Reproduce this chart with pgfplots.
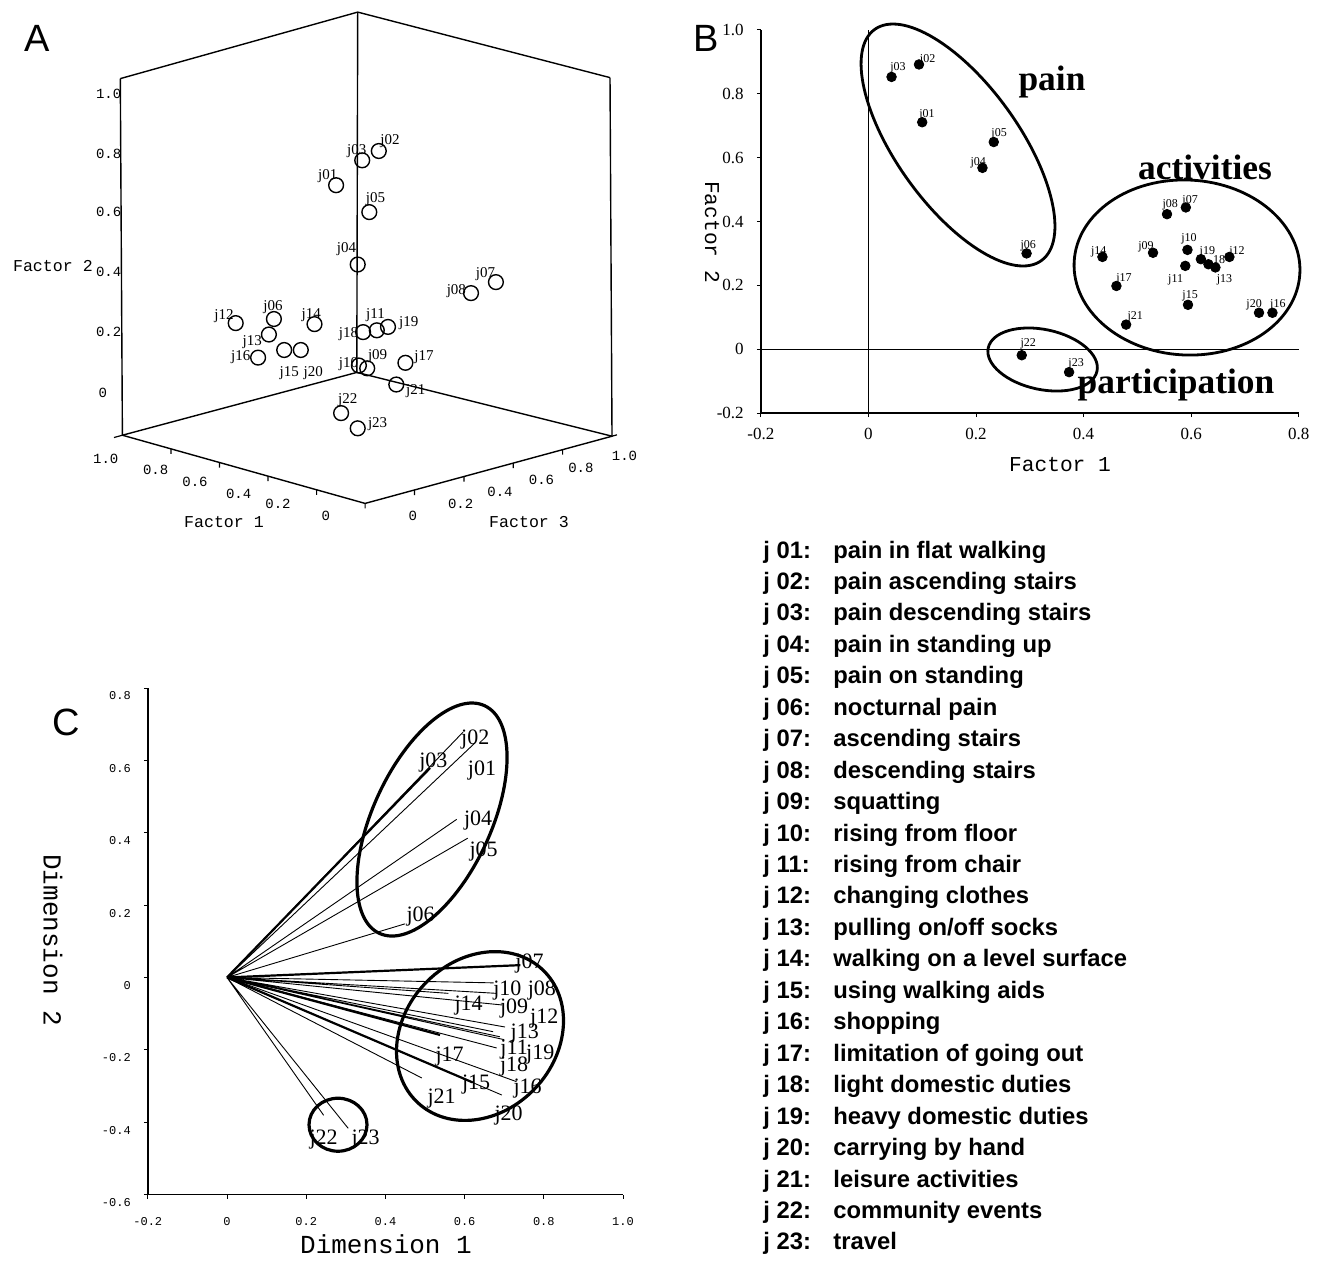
\documentclass[border=0pt]{standalone}
\usepackage{fontspec}
\setmainfont{Liberation Serif}
\newfontfamily\lmono{Liberation Mono}
\newfontfamily\lsans{Liberation Sans}
\usepackage{pgfplots}
\pgfplotsset{compat=1.18}

\begin{document}
\begin{tikzpicture}
\path[use as bounding box] (0,0) rectangle (662.5pt,630pt);

% ---------------- base axis in pixel coordinates (panel A, legend, annotations)
\begin{axis}[at={(0,0)}, anchor=south west, width=662.5pt, height=630pt, scale only axis,
  xmin=0, xmax=1325, ymin=0, ymax=1260, y dir=reverse, hide axis, clip=false]
% box of panel A
\addplot[black, line width=0.7pt] coordinates {(120.3,78.6) (357.7,12.1) (610,77.6)};
\addplot[black, line width=0.7pt] coordinates {(120.3,78.6) (122.4,435.2) (365.1,503.4) (612,436.2) (610,77.6)};
\addplot[black, line width=0.7pt] coordinates {(357.7,12.1) (356.8,372.4)};
\addplot[black, line width=0.7pt] coordinates {(122.4,435.2) (356.8,372.4) (612,436.2)};
\addplot[black, line width=0.6pt, unbounded coords=jump] coordinates {
 (114,437.5) (122.4,435.2) (nan,nan)
 (170.9,448.8) (170.9,453.8) (nan,nan) (219.5,462.5) (219.5,467.5) (nan,nan)
 (268.0,476.1) (268.0,481.1) (nan,nan) (316.6,489.8) (316.6,494.8) (nan,nan)
 (365.1,503.4) (365.1,508.4) (nan,nan)
 (414.5,490.0) (414.5,495.0) (nan,nan) (463.9,476.5) (463.9,481.5) (nan,nan)
 (513.2,463.1) (513.2,468.1) (nan,nan) (562.6,449.6) (562.6,454.6) (nan,nan)
 (612,436.2) (617,434.8)};
% points of panel A
\addplot[only marks, mark=o, mark size=3.7pt, mark options={line width=0.7pt}] table {
x y
378.8 151
362.2 160.3
336.1 185.2
369.3 212.1
357.7 264.5
495.9 282.1
471.0 293.1
235.7 323.1
273.9 319.0
314.5 324.1
376.8 330.3
388.0 326.9
363.1 332.1
268.9 334.5
284.2 350.0
300.8 350.0
258.1 357.6
358.9 365.5
367.2 368.3
405.4 362.8
396.3 384.5
341.1 413.1
357.7 428.3
};
\begin{scope}[every node/.style={font=\fontsize{7.5}{8}\selectfont, inner sep=0pt}]
\node at (axis cs:390,141.4) {j02};
\node at (axis cs:356.8,151) {j03};
\node at (axis cs:327.8,175.9) {j01};
\node at (axis cs:375.5,199.3) {j05};
\node at (axis cs:346.5,249) {j04};
\node at (axis cs:485.5,274.1) {j07};
\node at (axis cs:456.4,290.7) {j08};
\node at (axis cs:224,316.6) {j12};
\node at (axis cs:273,306.9) {j06};
\node at (axis cs:311.2,315.5) {j14};
\node at (axis cs:375.5,315.5) {j11};
\node at (axis cs:408.7,323.4) {j19};
\node at (axis cs:348.5,333.8) {j18};
\node at (axis cs:252.3,342) {j13};
\node at (axis cs:240.7,357.6) {j16};
\node at (axis cs:289.2,373.1) {j15};
\node at (axis cs:313.3,373.1) {j20};
\node at (axis cs:348.5,363.8) {j10};
\node at (axis cs:377.6,355.9) {j09};
\node at (axis cs:424,356.9) {j17};
\node at (axis cs:415.8,391.4) {j21};
\node at (axis cs:347.7,400) {j22};
\node at (axis cs:377.6,424.1) {j23};
\end{scope}
% tick labels of panel A
\begin{scope}[every node/.style={font=\lmono\fontsize{7}{7}\selectfont, inner sep=0pt}]
\node at (axis cs:108.7,93.8) {1.0};
\node at (axis cs:108.7,153.4) {0.8};
\node at (axis cs:108.7,212) {0.6};
\node at (axis cs:108.7,272) {0.4};
\node at (axis cs:108.7,331.7) {0.2};
\node at (axis cs:102.9,393) {0};
\node at (axis cs:105.8,458.6) {1.0};
\node at (axis cs:155.6,469.7) {0.8};
\node at (axis cs:195,482) {0.6};
\node at (axis cs:238.6,493.8) {0.4};
\node at (axis cs:278,504) {0.2};
\node at (axis cs:325.7,516.2) {0};
\node at (axis cs:412.9,515.5) {0};
\node at (axis cs:460.6,503.4) {0.2};
\node at (axis cs:500,491.4) {0.4};
\node at (axis cs:541.5,480) {0.6};
\node at (axis cs:580.9,468) {0.8};
\node at (axis cs:624.5,455.9) {1.0};
\end{scope}
\begin{scope}[every node/.style={font=\lmono\fontsize{8.3}{9}\selectfont, inner sep=0pt}]
\node at (axis cs:52.9,266) {Factor 2};
\node at (axis cs:224,522.4) {Factor 1};
\node at (axis cs:529,521.7) {Factor 3};
\end{scope}
% panel letters
\node[font=\lsans\fontsize{19}{20}\selectfont] at (axis cs:37,38) {A};
\node[font=\lsans\fontsize{19}{20}\selectfont] at (axis cs:706,38) {B};
\node[font=\lsans\fontsize{19}{20}\selectfont] at (axis cs:66,722) {C};
% axis titles of B and C
\node[font=\lmono\fontsize{10.6}{11}\selectfont] at (axis cs:1060,464.8) {Factor 1};
\node[font=\lmono\fontsize{10.6}{11}\selectfont, rotate=-90] at (axis cs:712,232) {Factor 2};
\node[font=\lmono\fontsize{13}{14}\selectfont] at (axis cs:386,1244) {Dimension 1};
\node[font=\lmono\fontsize{13}{14}\selectfont, rotate=-90] at (axis cs:53,940) {Dimension 2};
% group names of B
\node[font=\bfseries\fontsize{17.7}{18}\selectfont] at (axis cs:1052,82) {pain};
\node[font=\bfseries\fontsize{17.7}{18}\selectfont] at (axis cs:1205,167) {activities};
\node[font=\bfseries\fontsize{17.7}{18}\selectfont] at (axis cs:1176,384.5) {participation};
% ellipses of B
\draw[line width=1.4pt, rotate around={-54.2:(axis cs:958,145)}] (axis cs:958,145) ellipse [x radius=71.25pt, y radius=30.5pt];
\draw[line width=1.4pt, rotate around={-3:(axis cs:1187,267.5)}] (axis cs:1187,267.5) ellipse [x radius=56.5pt, y radius=43.75pt];
\draw[line width=1.4pt, rotate around={-12:(axis cs:1042.6,359.5)}] (axis cs:1042.6,359.5) ellipse [x radius=27.8pt, y radius=15pt];
% ellipses of C
\draw[line width=1.6pt, rotate around={65.2:(axis cs:432,819.5)}] (axis cs:432,819.5) ellipse [x radius=62.7pt, y radius=29.5pt];
\draw[line width=1.6pt, rotate around={46.7:(axis cs:480,1036)}] (axis cs:480,1036) ellipse [x radius=45.6pt, y radius=38pt];
\draw[line width=1.6pt] (axis cs:338,1124.7) ellipse [x radius=14.5pt, y radius=13.25pt];
\end{axis}

% ---------------- panel B
\begin{axis}[at={(380.4pt,423.5pt)}, anchor=south west, width=269pt, height=191.5pt, scale only axis,
  xmin=-0.2, xmax=0.8, ymin=-0.2, ymax=1.0, clip=false,
  axis x line*=bottom, axis y line*=left, axis line style={-, line width=0.7pt},
  tick align=outside, major tick length=2pt, tick style={black, line width=0.5pt},
  xtick={-0.2,0,0.2,0.4,0.6,0.8}, xticklabels={-0.2,0,0.2,0.4,0.6,0.8},
  ytick={-0.2,0,0.2,0.4,0.6,0.8,1.0}, yticklabels={-0.2,0,0.2,0.4,0.6,0.8,1.0},
  ticklabel style={font=\fontsize{8.5}{9}\selectfont},
  xticklabel style={yshift=-2pt}, yticklabel style={xshift=-3pt}]
\addplot[black, line width=0.5pt] coordinates {(0,-0.2) (0,1.0)};
\addplot[black, line width=0.5pt] coordinates {(-0.2,0) (0.8,0)};
\addplot[only marks, mark=*, mark size=2.4pt, black] table {
x y
0.043 0.853
0.094 0.892
0.100 0.711
0.233 0.649
0.212 0.568
0.294 0.300
0.555 0.423
0.590 0.444
0.593 0.311
0.529 0.302
0.435 0.289
0.618 0.282
0.632 0.266
0.645 0.256
0.671 0.289
0.589 0.261
0.461 0.198
0.594 0.139
0.726 0.114
0.751 0.114
0.479 0.077
0.285 -0.019
0.373 -0.072
};
\begin{scope}[every node/.style={font=\fontsize{6}{6}\selectfont, inner sep=0pt}]
\node at (axis cs:0.055,0.881) {j03};
\node at (axis cs:0.110,0.908) {j02};
\node at (axis cs:0.109,0.735) {j01};
\node at (axis cs:0.243,0.674) {j05};
\node at (axis cs:0.204,0.584) {j04};
\node at (axis cs:0.297,0.324) {j06};
\node at (axis cs:0.561,0.451) {j08};
\node at (axis cs:0.598,0.466) {j07};
\node at (axis cs:0.596,0.345) {j10};
\node at (axis cs:0.516,0.321) {j09};
\node at (axis cs:0.428,0.305) {j14};
\node at (axis cs:0.630,0.305) {j19};
\node at (axis cs:0.652,0.282) {18};
\node at (axis cs:0.685,0.305) {j12};
\node at (axis cs:0.571,0.218) {j11};
\node at (axis cs:0.662,0.218) {j13};
\node at (axis cs:0.475,0.219) {j17};
\node at (axis cs:0.598,0.166) {j15};
\node at (axis cs:0.717,0.140) {j20};
\node at (axis cs:0.761,0.140) {j16};
\node at (axis cs:0.496,0.100) {j21};
\node at (axis cs:0.297,0.018) {j22};
\node at (axis cs:0.386,-0.047) {j23};
\end{scope}
\end{axis}

% ---------------- panel C
\begin{axis}[at={(73.9pt,32.75pt)}, anchor=south west, width=237.6pt, height=253.25pt, scale only axis,
  xmin=-0.2, xmax=1.0, ymin=-0.6, ymax=0.8, clip=false,
  axis x line*=bottom, axis y line*=left, axis line style={-, line width=0.7pt},
  tick align=outside, major tick length=2pt, tick style={black, line width=0.5pt},
  xtick={-0.2,0,0.2,0.4,0.6,0.8,1.0}, xticklabels={-0.2,0,0.2,0.4,0.6,0.8,1.0},
  ytick={-0.6,-0.4,-0.2,0,0.2,0.4,0.6,0.8}, yticklabels={-0.6,-0.4,-0.2,0,0.2,0.4,0.6,0.8},
  ticklabel style={font=\lmono\fontsize{6}{6}\selectfont},
  xticklabel style={yshift=-6pt}, yticklabel style={yshift=-4pt, xshift=-3pt}]
\addplot[black, line width=0.45pt, unbounded coords=jump] coordinates {
 (0,0) (0.626,0.648) (nan,nan) (0,0) (0.596,0.678) (nan,nan)
 (0,0) (0.580,0.437) (nan,nan) (0,0) (0.608,0.385) (nan,nan)
 (0,0) (0.449,0.148) (nan,nan) (0,0) (0.681,-0.044) (nan,nan)
 (0,0) (0.694,-0.076) (nan,nan) (0,0) (0.673,-0.015) (nan,nan)
 (0,0) (0.681,-0.195) (nan,nan) (0,0) (0.702,-0.137) (nan,nan)
 (0,0) (0.672,-0.150) (nan,nan) (0,0) (0.559,-0.044) (nan,nan)
 (0,0) (0.731,-0.288) (nan,nan) (0,0) (0.689,-0.164) (nan,nan)
 (0,0) (0.700,-0.172) (nan,nan) (0,0) (0.694,-0.325) (nan,nan)
 (0,0) (0.492,-0.278) (nan,nan) (0,0) (0.244,-0.381) (nan,nan)
 (0,0) (0.306,-0.417)};
\addplot[black, line width=1.1pt, unbounded coords=jump] coordinates {
 (0,0) (0.513,0.579) (nan,nan) (0,0) (0.741,0.034) (nan,nan)
 (0,0) (0.620,-0.290) (nan,nan) (0,0) (0.538,-0.159)};
\begin{scope}[every node/.style={font=\fontsize{11}{11}\selectfont, inner sep=0pt}]
\node at (axis cs:0.627,0.657) {j02};
\node at (axis cs:0.521,0.595) {j03};
\node at (axis cs:0.644,0.571) {j01};
\node at (axis cs:0.634,0.435) {j04};
\node at (axis cs:0.648,0.349) {j05};
\node at (axis cs:0.489,0.167) {j06};
\node at (axis cs:0.764,0.039) {j07};
\node at (axis cs:0.708,-0.037) {j10};
\node at (axis cs:0.795,-0.037) {j08};
\node at (axis cs:0.610,-0.078) {j14};
\node at (axis cs:0.725,-0.087) {j09};
\node at (axis cs:0.801,-0.115) {j12};
\node at (axis cs:0.752,-0.156) {j13};
\node at (axis cs:0.725,-0.198) {j11};
\node at (axis cs:0.791,-0.212) {j19};
\node at (axis cs:0.562,-0.219) {j17};
\node at (axis cs:0.725,-0.245) {j18};
\node at (axis cs:0.629,-0.297) {j15};
\node at (axis cs:0.759,-0.306) {j16};
\node at (axis cs:0.542,-0.334) {j21};
\node at (axis cs:0.711,-0.381) {j20};
\node at (axis cs:0.244,-0.449) {j22};
\node at (axis cs:0.350,-0.449) {j23};
\end{scope}
\end{axis}

% ---------------- legend list
\foreach \n/\t [count=\k from 0] in {01/pain in flat walking, 02/pain ascending stairs,
  03/pain descending stairs, 04/pain in standing up, 05/pain on standing, 06/nocturnal pain,
  07/ascending stairs, 08/descending stairs, 09/squatting, 10/rising from floor,
  11/rising from chair, 12/changing clothes, 13/pulling on\slash off socks,
  14/walking on a level surface, 15/using walking aids, 16/shopping,
  17/limitation of going out, 18/light domestic duties, 19/heavy domestic duties,
  20/carrying by hand, 21/leisure activities, 22/community events, 23/travel} {
  \node[anchor=base west, inner sep=0pt, font=\lsans\bfseries\fontsize{11.9}{12}\selectfont]
    at (381.5pt, {(1260-558-31.45*\k)*0.5pt}) {j \n:};
  \node[anchor=base west, inner sep=0pt, font=\lsans\bfseries\fontsize{11.9}{12}\selectfont]
    at (416.5pt, {(1260-558-31.45*\k)*0.5pt}) {\t};
}
\end{tikzpicture}
\end{document}
